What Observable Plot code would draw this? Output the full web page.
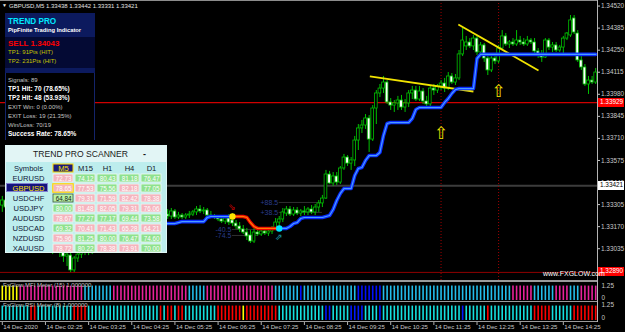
<!DOCTYPE html>
<html><head><meta charset="utf-8">
<script src="https://cdn.jsdelivr.net/npm/d3@7"></script>
<script src="https://cdn.jsdelivr.net/npm/@observablehq/plot@0.6"></script>
<style>
html,body{margin:0;padding:0;background:#000;}
#root{position:relative;width:625px;height:332px;background:#000;overflow:hidden;font-family:"Liberation Sans",Arial,sans-serif;}
.t{position:absolute;white-space:nowrap;line-height:1;}
svg{position:absolute;}
</style></head><body><div id="root"></div>
<script>
// ---------- DATA ----------
const open = [1.33299,1.33330,1.33287,1.33257,1.33275,1.33214,1.33183,1.33201,1.33146,1.33116,
1.33140,1.33079,1.33067,1.33085,1.33042,1.33055,1.33030,1.33012,1.32987,1.32993,
1.32902,1.32975,1.32999,1.33024,1.33049,1.33012,1.33067,1.33085,1.33110,1.33097,
1.33122,1.33146,1.33128,1.33159,1.33177,1.33165,1.33195,1.33183,1.33208,1.33220,
1.33201,1.33226,1.33214,1.33238,1.33226,1.33220,1.33244,1.33232,1.33263,1.33226,
1.33238,1.33226,1.33238,1.33244,1.33257,1.33275,1.33263,1.33269,1.33238,1.33232,
1.33226,1.33214,1.33201,1.33220,1.33208,1.33189,1.33171,1.33153,1.33134,1.33116,
1.33079,1.33134,1.33122,1.33140,1.33128,1.33140,1.33159,1.33195,1.33214,1.33250,
1.33275,1.33244,1.33269,1.33250,1.33263,1.33257,1.33275,1.33257,1.33287,1.33312,
1.33342,1.33489,1.33434,1.33477,1.33440,1.33526,1.33593,1.33556,1.33575,1.33697,
1.33771,1.33789,1.33832,1.33703,1.33893,1.33985,1.34015,1.34052,1.33930,1.33911,
1.33924,1.33942,1.33899,1.33924,1.33985,1.34003,1.33948,1.33997,1.33936,1.33918,
1.34015,1.34003,1.34028,1.34046,1.34015,1.34089,1.34052,1.34077,1.34224,1.34273,
1.34297,1.34273,1.34321,1.34236,1.34279,1.34199,1.34126,1.34199,1.34181,1.34260,
1.34334,1.34285,1.34297,1.34285,1.34309,1.34297,1.34285,1.34309,1.34297,1.34242,
1.34217,1.34205,1.34309,1.34266,1.34279,1.34248,1.34266,1.34321,1.34340,1.34444,
1.34352,1.34187,1.34144,1.34040,1.34064,1.34052];
const high = [1.33355,1.33361,1.33312,1.33293,1.33299,1.33244,1.33220,1.33226,1.33177,1.33159,
1.33165,1.33110,1.33097,1.33110,1.33073,1.33085,1.33061,1.33036,1.33024,1.33012,
1.32987,1.33012,1.33049,1.33061,1.33073,1.33085,1.33097,1.33122,1.33146,1.33134,
1.33159,1.33177,1.33171,1.33195,1.33208,1.33208,1.33226,1.33220,1.33244,1.33250,
1.33238,1.33257,1.33250,1.33263,1.33269,1.33257,1.33275,1.33281,1.33275,1.33257,
1.33250,1.33250,1.33263,1.33269,1.33293,1.33299,1.33287,1.33281,1.33263,1.33244,
1.33238,1.33232,1.33232,1.33244,1.33250,1.33208,1.33195,1.33177,1.33159,1.33146,
1.33159,1.33159,1.33153,1.33159,1.33153,1.33171,1.33220,1.33232,1.33281,1.33293,
1.33293,1.33287,1.33287,1.33275,1.33293,1.33287,1.33299,1.33306,1.33330,1.33361,
1.33514,1.33508,1.33501,1.33501,1.33538,1.33612,1.33605,1.33593,1.33722,1.33795,
1.33820,1.33856,1.33850,1.33911,1.34003,1.34040,1.34089,1.34064,1.33954,1.33942,
1.33967,1.33973,1.33948,1.34003,1.34028,1.34028,1.34028,1.34015,1.33967,1.34034,
1.34040,1.34040,1.34064,1.34077,1.34113,1.34107,1.34101,1.34248,1.34383,1.34334,
1.34321,1.34340,1.34334,1.34297,1.34291,1.34217,1.34217,1.34217,1.34279,1.34370,
1.34352,1.34309,1.34321,1.34370,1.34334,1.34321,1.34334,1.34321,1.34321,1.34260,
1.34248,1.34321,1.34321,1.34297,1.34297,1.34279,1.34334,1.34358,1.34462,1.34462,
1.34370,1.34211,1.34162,1.34089,1.34089,1.34138];
const low = [1.33257,1.33269,1.33232,1.33220,1.33195,1.33159,1.33146,1.33128,1.33097,1.33085,
1.33061,1.33036,1.33024,1.33024,1.32999,1.33012,1.32981,1.32951,1.32926,1.32889,
1.32889,1.32951,1.32975,1.32993,1.32993,1.32999,1.33036,1.33061,1.33085,1.33073,
1.33097,1.33116,1.33110,1.33134,1.33146,1.33146,1.33171,1.33159,1.33183,1.33195,
1.33183,1.33201,1.33195,1.33214,1.33208,1.33201,1.33214,1.33214,1.33214,1.33214,
1.33214,1.33214,1.33220,1.33232,1.33238,1.33250,1.33244,1.33232,1.33220,1.33214,
1.33201,1.33189,1.33183,1.33177,1.33171,1.33153,1.33134,1.33122,1.33085,1.33067,
1.33067,1.33110,1.33110,1.33116,1.33110,1.33122,1.33146,1.33171,1.33195,1.33232,
1.33232,1.33232,1.33238,1.33232,1.33238,1.33238,1.33244,1.33238,1.33257,1.33287,
1.33336,1.33428,1.33416,1.33422,1.33428,1.33514,1.33538,1.33514,1.33538,1.33636,
1.33740,1.33765,1.33624,1.33691,1.33795,1.33960,1.33985,1.33918,1.33881,1.33869,
1.33881,1.33881,1.33869,1.33899,1.33948,1.33936,1.33936,1.33918,1.33905,1.33905,
1.33973,1.33985,1.34003,1.33991,1.34003,1.34040,1.34034,1.34064,1.34211,1.34248,
1.34260,1.34248,1.34217,1.34224,1.34175,1.34095,1.34113,1.34162,1.34168,1.34248,
1.34273,1.34260,1.34273,1.34273,1.34279,1.34273,1.34273,1.34285,1.34230,1.34199,
1.34175,1.34199,1.34248,1.34236,1.34236,1.34236,1.34230,1.34309,1.34328,1.34346,
1.34175,1.34126,1.34028,1.33979,1.34040,1.34040];
const close = [1.33330,1.33287,1.33257,1.33275,1.33214,1.33183,1.33201,1.33146,1.33116,1.33140,
1.33079,1.33067,1.33085,1.33042,1.33055,1.33030,1.33012,1.32987,1.32999,1.32902,
1.32975,1.32999,1.33024,1.33049,1.33012,1.33067,1.33085,1.33110,1.33097,1.33122,
1.33146,1.33128,1.33159,1.33177,1.33165,1.33195,1.33183,1.33208,1.33220,1.33201,
1.33226,1.33214,1.33238,1.33226,1.33250,1.33244,1.33232,1.33263,1.33226,1.33238,
1.33226,1.33238,1.33244,1.33257,1.33275,1.33263,1.33269,1.33238,1.33232,1.33226,
1.33214,1.33201,1.33220,1.33195,1.33189,1.33171,1.33153,1.33134,1.33110,1.33079,
1.33134,1.33122,1.33140,1.33128,1.33140,1.33159,1.33195,1.33214,1.33257,1.33275,
1.33244,1.33269,1.33250,1.33263,1.33257,1.33275,1.33257,1.33287,1.33312,1.33342,
1.33489,1.33434,1.33477,1.33440,1.33526,1.33593,1.33556,1.33575,1.33697,1.33771,
1.33789,1.33832,1.33703,1.33893,1.33985,1.34015,1.34052,1.33930,1.33911,1.33924,
1.33942,1.33899,1.33924,1.33985,1.34003,1.33948,1.33997,1.33936,1.33918,1.34015,
1.34003,1.34028,1.34046,1.34015,1.34089,1.34052,1.34077,1.34224,1.34309,1.34297,
1.34273,1.34321,1.34236,1.34279,1.34199,1.34126,1.34199,1.34181,1.34260,1.34334,
1.34285,1.34297,1.34285,1.34309,1.34297,1.34285,1.34309,1.34297,1.34242,1.34217,
1.34205,1.34309,1.34266,1.34279,1.34248,1.34266,1.34321,1.34352,1.34432,1.34358,
1.34187,1.34144,1.34040,1.34064,1.34052,1.34113];

// Trend Pro stop line, starting at bar stopStart
const stopStart = 40;
const trendStop = [1.33189,1.33189,1.33189,1.33189,1.33189,1.33189,1.33189,1.33189,1.33189,
1.33195,1.33201,1.33201,1.33201,1.33201,1.33201,1.33201,1.33201,1.33226,
1.33232,1.33232,1.33232,1.33232,1.33232,1.33232,1.33232,1.33232,1.33232,1.33232,
1.33226,1.33195,1.33171,
1.33159,1.33159,1.33159,1.33159,1.33159,1.33159,1.33159,1.33159,1.33159,
1.33171,1.33189,1.33195,1.33220,1.33226,1.33226,1.33226,1.33226,1.33226,1.33226,
1.33232,1.33238,1.33275,1.33330,1.33373,1.33403,1.33403,1.33403,1.33483,1.33526,
1.33532,1.33575,1.33605,1.33605,1.33605,1.33624,1.33728,1.33801,
1.33807,1.33807,1.33807,1.33807,1.33807,1.33807,1.33832,1.33887,
1.33899,1.33899,1.33899,1.33899,1.33899,1.33899,1.33899,
1.33930,1.33954,1.33985,1.34009,1.34015,1.34015,1.34015,1.34015,1.34015,1.34199,
1.34224,1.34224,1.34224,1.34224,1.34224,1.34224,1.34224,1.34224,1.34224,1.34224,1.34224,
1.34224,1.34224,1.34224,1.34224,1.34224,1.34224,1.34224,1.34224,1.34224,1.34224,1.34224,
1.34224,1.34224,1.34224,1.34224,1.34224,1.34224,1.34224,1.34224,1.34224,1.34224,1.34224];
const sellStart = 64, sellEnd = 77;

const priceTicks = [1.34520,1.34385,1.34250,1.34115,1.33980,1.33845,1.33710,1.33575,1.33440,1.33305,1.33170,1.33035,1.32900];
const timeTickBars = [0,12,24,36,48,60,72,84,96,108,120,132,144,156];
const timeLabels = ["14 Dec 2020","14 Dec 02:25","14 Dec 03:25","14 Dec 04:25","14 Dec 05:25","14 Dec 06:25","14 Dec 07:25","14 Dec 08:25","14 Dec 09:25","14 Dec 10:25","14 Dec 11:25","14 Dec 12:25","14 Dec 13:25","14 Dec 14:25"];

const redLevel = 1.33929, lowLevel = 1.32890, bidPrice = 1.33421;
const signalBars = [122, 138];
const signalArrowPrice = [1.33740, 1.33997];
const tlBar1 = [102.2, 126.8], tlPrice1 = [1.34089, 1.34407];
const tlBar2 = [131.0, 149.1], tlPrice2 = [1.33997, 1.34126];
const tpLabels = ["+88.5", "+38.5", "-40.5", "-74.5"];
const tpPrices = [1.33318, 1.33257, 1.33153, 1.33116];
const tpFrom = [77, 77, 64, 64], tpTo = [89, 89, 71, 71];

// meter states per bar: Y yellow, M magenta, C cyan, B blue, R red
const mfiStates = "YYYYY" + "MMMMMMMMMMMMMMMMMM" + "CCCCCCCC" + "MMMMMMMMMMMMMMMMMMMMM" + "CCCCC" +
  "MMMMMMMMMMMMMMMMMMM" + "CCCCCCC" + "B" + "CCCCCCCCCCCCCCC" + "BBBBBBB" +
  "CCCCCCCCCCCCCCCCCCCCCCCCCCCCCCCCCCCC" + "MMMMMM" + "CCCCCC" + "MMMM" + "CCC" + "MMMMM";
const rsiStates = "CCCCCCCC" + "RR" + "CCCCCCCCCC" + "RRRR" + "CCCCCCCCCCCCCCCCCCCC" + "RCRRCRRC" +
  "CCCCCCCC" + "RRRRRRR" + "Y" + "RRRRRRRRR" + "CCCCCC" + "CCCCCCC" + "BB" + "CCCCC" + "BBBB" +
  "CCCC" + "B" + "CCCCCCCCCCCCCCCCCCCCCC" + "B" + "CCCCCC" + "R" + "CCCCCCCCCCCC" + "RRRRR" + "CCCCCC" + "RRRRRRR";

const scanSymbols = ["EURUSD","GBPUSD","USDCHF","USDJPY","AUDUSD","USDCAD","NZDUSD","XAUUSD"];
const scanFrames = ["M5","M15","H1","H4","D1"];
const scanValues = [
 [72.73,74.12,80.43,81.18,76.47],
 [78.65,77.53,75.56,82.18,77.05],
 [64.84,79.31,71.59,82.42,78.38],
 [80.00,81.48,82.05,79.31,76.06],
 [78.67,77.27,77.17,69.44,73.58],
 [69.32,70.41,71.43,65.28,64.21],
 [75.96,81.25,80.00,76.47,74.60],
 [78.72,80.22,78.38,73.91,70.00]];
const scanSide = ["SBBBB","SSBSB","BSSSS","BSSSS","SBBBB","BSSSS","SBBBB","SBSSB"];

const infoHeader = ["TREND PRO", "PipFinite Trading Indicator", "SELL 1.34043", "TP1: 91Pts (HIT)", "TP2: 231Pts (HIT)"];
const infoStats = ["Signals: 89","TP1 Hit: 70 (78.65%)","TP2 Hit: 48 (53.93%)","EXIT Win: 0 (0.00%)","EXIT Loss: 19 (21.35%)","Win/Loss: 70/19","Success Rate: 78.65%"];
const titleText = "GBPUSD,M5  1.33438 1.33442 1.33331 1.33421";

// ---------- HELPERS ----------
const root = document.getElementById("root");
const FONT = "'Liberation Sans', Arial, sans-serif";
function place(el, left, top) { el.style.position = "absolute"; el.style.left = left + "px"; el.style.top = top + "px"; root.appendChild(el); return el; }
function box(left, top, w, h, css) { const d = document.createElement("div"); d.style.position = "absolute"; d.style.left = left + "px"; d.style.top = top + "px"; d.style.width = w + "px"; d.style.height = h + "px"; Object.assign(d.style, css || {}); root.appendChild(d); return d; }
function txt(s, left, cy, fs, color, bold, parent) { const d = document.createElement("div"); d.className = "t"; d.textContent = s; d.style.left = left + "px"; d.style.top = (cy - fs * 0.55) + "px"; d.style.fontSize = fs + "px"; d.style.color = color; if (bold) d.style.fontWeight = "bold"; (parent || root).appendChild(d); return d; }

const X_DOMAIN = [-0.5, 165.5];
const baseStyle = { background: "transparent", color: "#c8c8c8", fontFamily: FONT, fontSize: "6.4px", overflow: "visible" };

// ---------- MAIN CHART ----------
const bars = open.map((o, i) => ({ i, o, h: high[i], l: low[i], c: close[i] }));
const stopData = trendStop.map((v, k) => ({ i: stopStart + k, v }));
const blueA = stopData.filter(d => d.i <= sellStart);
const redSeg = stopData.filter(d => d.i >= sellStart && d.i <= sellEnd);
const blueB = stopData.filter(d => d.i >= sellEnd);
const flipDots = [{ i: sellStart, v: trendStop[sellStart - stopStart], c: "#ffe600" }, { i: sellEnd, v: trendStop[sellEnd - stopStart], c: "#00e4ff" }];
const tls = tlBar1.map((b, k) => ({ x1: b, y1: tlPrice1[k], x2: tlBar2[k], y2: tlPrice2[k] }));
const tps = tpLabels.map((t, k) => ({ t, p: tpPrices[k], a: tpFrom[k], b: tpTo[k] }));
const sigs = signalBars.map((b, k) => ({ b, p: signalArrowPrice[k] }));

const main = Plot.plot({
  width: 625, height: 281,
  marginTop: 0, marginBottom: 0, marginLeft: 0, marginRight: 28,
  style: baseStyle,
  x: { domain: X_DOMAIN, axis: null },
  y: { domain: [1.328343, 1.34554], axis: null },
  color: { type: "identity" },
  marks: [
    Plot.ruleY([bidPrice], { stroke: "#3c3c3c", strokeWidth: 2 }),
    Plot.ruleY([redLevel], { stroke: "#d00000", strokeWidth: 1.2 }),
    Plot.ruleY([lowLevel], { stroke: "#900000", strokeWidth: 1 }),
    Plot.ruleX(signalBars, { stroke: "#a00000", strokeDasharray: "1,2", strokeWidth: 1 }),
    Plot.ruleY(tps, { y: "p", x1: "a", x2: "b", stroke: "#303030", strokeWidth: 1 }),
    Plot.ruleX(bars, { x: "i", y1: "l", y2: "h", stroke: "#00c000", strokeWidth: 1 }),
    Plot.rect(bars, { x1: d => d.i - 0.38, x2: d => d.i + 0.38, y1: "o", y2: "c", fill: d => d.c < d.o ? "#ffffff" : "#000000", stroke: "#00c000", strokeWidth: 0.8 }),
    Plot.link(tls, { x1: "x1", y1: "y1", x2: "x2", y2: "y2", stroke: "#f2e400", strokeWidth: 1.8 }),
    Plot.line(blueA, { x: "i", y: "v", stroke: "#0a2cff", strokeWidth: 3.6 }),
    Plot.line(blueA, { x: "i", y: "v", stroke: "#4a9cff", strokeWidth: 1.2 }),
    Plot.line(blueB, { x: "i", y: "v", stroke: "#0a2cff", strokeWidth: 3.6 }),
    Plot.line(blueB, { x: "i", y: "v", stroke: "#4a9cff", strokeWidth: 1.2 }),
    Plot.line(redSeg, { x: "i", y: "v", stroke: "#e80000", strokeWidth: 3.6 }),
    Plot.line(redSeg, { x: "i", y: "v", stroke: "#ff7a00", strokeWidth: 1.3 }),
    Plot.dot(flipDots, { x: "i", y: "v", r: 3.2, fill: "c", stroke: "none" }),
    Plot.text([flipDots[0]], { x: "i", y: "v", text: () => "⇘", dy: -9, fill: "#c00000", fontSize: 9 }),
    Plot.text([flipDots[1]], { x: "i", y: "v", text: () => "⇗", dy: 9, fill: "#1a9aa8", fontSize: 9 }),
    Plot.text(sigs, { x: "b", y: "p", text: () => "⇧", fill: "#f0e000", fontSize: 17, fontFamily: "DejaVu Sans" }),
    Plot.text(tps, { x: "a", y: "p", text: "t", textAnchor: "end", dx: -1, fill: "#2a3c8c", fontSize: 7 }),
    Plot.axisY({ ticks: priceTicks, anchor: "right", tickFormat: d => d.toFixed(5), tickSize: 2, tickPadding: 1.5 })
  ]
});
place(main, 0, 0);
const ys = main.scale("y");

// ---------- METERS ----------
function meter(states, palette, top, name, l125, l0) {
  const data = states.split("").map((c, i) => ({ i, c }));
  const p = Plot.plot({
    width: 625, height: 19, marginTop: 0, marginBottom: 1, marginLeft: 0, marginRight: 28,
    style: baseStyle,
    x: { domain: X_DOMAIN, axis: null },
    y: { domain: [0, 1.25], axis: null },
    color: { type: "identity" },
    marks: [
      Plot.ruleX(data, { x: "i", y1: 0, y2: 1, stroke: d => palette[d.c], strokeWidth: 1.6 }),
      Plot.text([1.25], { y: d => d, text: () => "1.25", frameAnchor: "right", textAnchor: "start", dx: 4, dy: l125, fill: "#c8c8c8", fontSize: 6.4 }),
      Plot.text([0], { y: d => d, text: () => "0", frameAnchor: "right", textAnchor: "start", dx: 4, dy: l0, fill: "#c8c8c8", fontSize: 6.4 })
    ]
  });
  place(p, 0, top);
  txt(name, 3, top + 3.5, 6, "#c4c4c4");
}
meter(mfiStates, { Y: "#ffff00", M: "#e8229a", C: "#22bdea", B: "#0010ff" }, 282, "FxGlow MFI Meter (15) 1.000000", 3.5, -3);
meter(rsiStates, { Y: "#ffff00", R: "#ff0000", C: "#14e0e0", B: "#0018ff" }, 302, "FxGlow RSI Meter (8) 1.000000", 2.5, -2.5);

// ---------- TIME AXIS ----------
const tAxis = Plot.plot({
  width: 625, height: 10, marginTop: 0, marginBottom: 7, marginLeft: 0, marginRight: 28,
  style: baseStyle,
  x: { domain: X_DOMAIN, axis: null },
  marks: [
    Plot.tickX(timeTickBars, { x: d => d, stroke: "#b0b0b0" }),
    Plot.text(timeTickBars, { x: d => d, text: (d, k) => timeLabels[k], frameAnchor: "bottom", lineAnchor: "middle", textAnchor: "start", dx: 1, dy: 1.5, fill: "#c8c8c8", fontSize: 6.1 })
  ]
});
place(tAxis, 0, 322);

// ---------- FRAME LINES ----------
box(0, 0, 597, 1, { background: "#8c8c8c" });
box(0, 280, 597, 1.5, { background: "#9a9a9a" });
box(0, 300.5, 597, 1.5, { background: "#9a9a9a" });
box(0, 320.5, 597, 1.5, { background: "#9a9a9a" });
box(597, 0, 1, 322, { background: "#b4b4b4" });

// ---------- PRICE TAGS ----------
function tag(price, bg, fg) {
  const y = ys.apply(price);
  box(598, y - 4.5, 26, 9, { background: bg });
  txt(price.toFixed(5), 600, y, 6.4, fg);
}
tag(redLevel, "#ff0000", "#ffffff");
tag(bidPrice, "#ffffff", "#000000");
tag(lowLevel, "#ff0000", "#ffffff");

txt("www.FXGLOW.com", 543, 273.5, 7, "#ffffff");
txt("▼", 2, 6, 5, "#e8e8e8");
txt(titleText, 9, 6, 6, "#e4e4e4");

// ---------- INFO PANEL ----------
box(5, 13, 90, 127, { background: "#000", borderLeft: "1px solid #14246a", borderRight: "1px solid #14246a", boxSizing: "border-box" });
box(5, 13, 90, 24, { background: "#0c1a5e" });
box(5, 37, 90, 31, { background: "#040a34" });
box(5, 68, 90, 5, { background: "#0c1a5e" });
txt(infoHeader[0], 8, 22.3, 8.2, "#00e6ff", true);
txt(infoHeader[1], 8, 30.7, 5.8, "#ffffff", true);
txt(infoHeader[2], 8, 44, 8, "#ff0000", true);
txt(infoHeader[3], 8, 52.7, 6, "#c8c400");
txt(infoHeader[4], 8, 61.7, 6, "#c8c400");
const statY = [80, 89.3, 98.7, 107.3, 116.3, 125, 134.7];
const statBold = [false, true, true, false, false, false, true];
infoStats.forEach((s, k) => txt(s, 8, statY[k], statBold[k] ? 6.5 : 6, statBold[k] ? "#ffffff" : "#c4c4c4", statBold[k]));

// ---------- SCANNER ----------
box(5, 145, 162, 108, { background: "#bdeded", border: "1px solid #dff6f6", boxSizing: "border-box" });
box(6, 146, 160, 16, { background: "#e2f5f5" });
txt("TREND PRO SCANNER", 33, 155, 8.6, "#1a1a1a");
txt("-", 143, 154.5, 9, "#1a1a1a", true);
box(6, 183, 42, 9, { background: "#14147e", border: "1px solid #8080d0", boxSizing: "border-box" });

const cells = scanSymbols.flatMap((s, r) => scanFrames.map((tf, c) => ({ sym: s, tf, v: scanValues[r][c], side: scanSide[r][c] })));
const isSpecial = d => d.sym === "USDCHF" && d.tf === "M5";
const scanner = Plot.plot({
  width: 162, height: 108, marginLeft: 45, marginRight: 4, marginTop: 18, marginBottom: 0,
  style: { background: "transparent", fontFamily: FONT, overflow: "visible" },
  x: { type: "band", domain: scanFrames, padding: 0, axis: null },
  y: { type: "band", domain: ["hdr", ...scanSymbols], padding: 0, axis: null },
  color: { type: "identity" },
  marks: [
    Plot.cell(cells, { x: "tf", y: "sym", inset: 1, fill: d => isSpecial(d) ? "#b8f2a4" : d.side === "S" ? "#f5b4be" : "#8ee28e", stroke: d => isSpecial(d) ? "#405840" : "#f2fbf2", strokeWidth: 0.8 }),
    Plot.cell(cells.filter(d => d.sym === "GBPUSD" && d.tf === "M5"), { x: "tf", y: "sym", inset: 0.8, fill: "none", stroke: "#ffd200", strokeWidth: 1.2 }),
    Plot.cell([{ tf: "M5", sym: "hdr" }], { x: "tf", y: "sym", inset: 1, fill: "#1c1c7c", stroke: "#ffd800", strokeWidth: 1 }),
    Plot.text(scanFrames, { x: d => d, y: () => "hdr", text: d => d, fill: d => d === "M5" ? "#ffe000" : "#101828", fontSize: 7.6 }),
    Plot.text(cells, { x: "tf", y: "sym", text: d => d.v.toFixed(2), fill: d => isSpecial(d) ? "#102010" : "#ffffff", fontSize: 6.3 }),
    Plot.text(scanSymbols, { y: d => d, frameAnchor: "left", textAnchor: "middle", dx: -22, text: d => d, fill: d => d === "GBPUSD" ? "#ffe000" : "#102038", fontSize: 7.6 }),
    Plot.text(["Symbols"], { y: () => "hdr", frameAnchor: "left", textAnchor: "middle", dx: -22, text: d => d, fill: "#102038", fontSize: 7.6 })
  ]
});
place(scanner, 5, 145);
</script></body></html>
